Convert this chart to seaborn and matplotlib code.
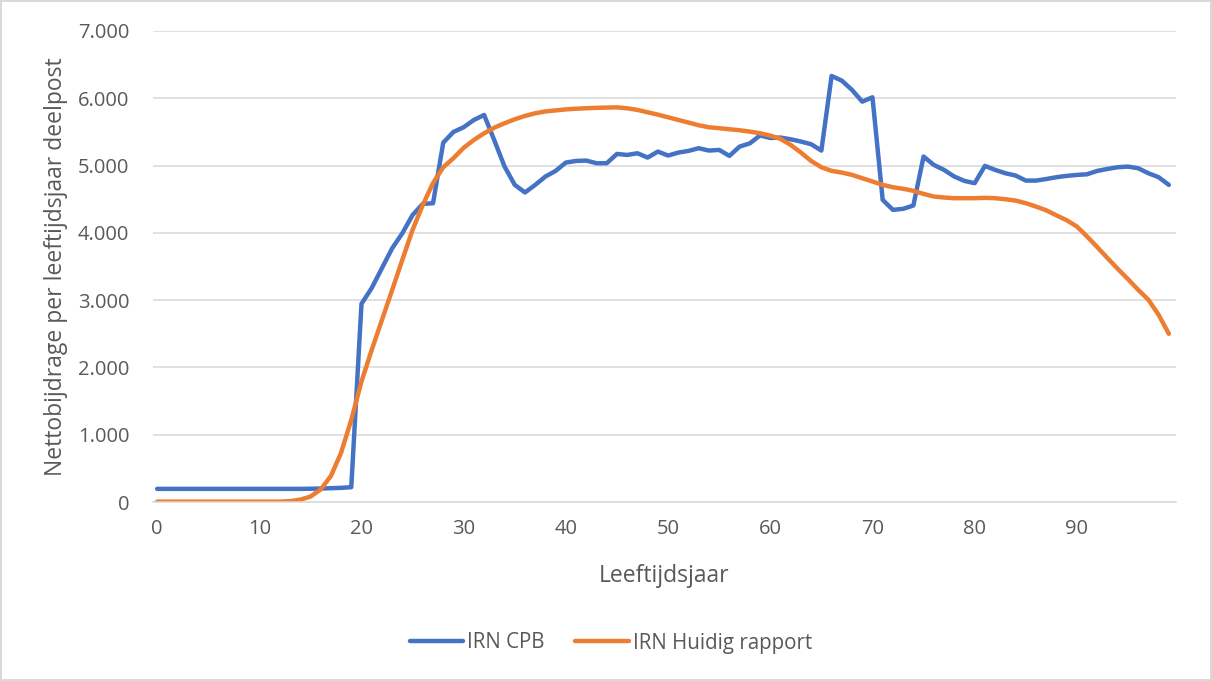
import matplotlib
matplotlib.use("Agg")
import matplotlib.pyplot as plt
import matplotlib.ticker as mticker
import seaborn as sns
import pandas as pd

# ---- data ----
years = list(range(100))
irn_cpb = [195] * 15 + [197, 200, 205, 210, 220,
    2945, 3180, 3475, 3770, 3995, 4265, 4430, 4440, 5340, 5500,
    5570, 5678, 5752, 5375, 4985, 4713, 4600, 4713, 4837, 4921,
    5045, 5069, 5074, 5035, 5035, 5173, 5158, 5183, 5119, 5208,
    5149, 5193, 5218, 5258, 5223, 5233, 5144, 5282, 5330, 5448,
    5410, 5416, 5391, 5357, 5317, 5223, 6332, 6262, 6124, 5950,
    6015, 4490, 4342, 4357, 4406, 5134, 5010, 4936, 4837, 4772,
    4738, 4995, 4936, 4886, 4852, 4777, 4777, 4800, 4827, 4847,
    4861, 4871, 4921, 4950, 4975, 4985, 4960, 4886, 4827, 4713]
irn_huidig = [5] * 13 + [12, 35, 80, 185, 385, 730, 1220,
    1790, 2260, 2705, 3150, 3600, 4045, 4415, 4740, 4975, 5110,
    5265, 5381, 5480, 5564, 5629, 5688, 5738, 5777, 5805, 5820,
    5835, 5845, 5852, 5858, 5862, 5865, 5851, 5827, 5792, 5757,
    5718, 5678, 5639, 5599, 5569, 5555, 5540, 5525, 5505, 5480,
    5445, 5396, 5307, 5193, 5069, 4975, 4921, 4896, 4862, 4812,
    4763, 4713, 4678, 4655, 4625, 4579, 4540, 4525, 4515, 4515,
    4515, 4520, 4515, 4500, 4480, 4441, 4391, 4335, 4260, 4188,
    4094, 3946, 3787, 3624, 3465, 3312, 3153, 3005, 2782, 2500]
series_names = ["IRN CPB", "IRN Huidig rapport"]
x_ticks = list(range(0, 100, 10))
y_ticks = list(range(0, 7001, 1000))

df = pd.DataFrame({
    "Leeftijdsjaar": years * 2,
    "waarde": irn_cpb + irn_huidig,
    "reeks": [series_names[0]] * len(years) + [series_names[1]] * len(years),
})

sns.set_theme(style="white")
plt.rcParams["font.family"] = ["Open Sans", "DejaVu Sans"]

fig = plt.figure(figsize=(12.12, 6.81), dpi=100)
fig.patch.set_facecolor("white")
fig.patch.set_edgecolor("#D9D9D9")
fig.patch.set_linewidth(1.5)
ax = fig.add_axes([153 / 1212, 1 - 502 / 681, (1176 - 153) / 1212, (502 - 31) / 681])

sns.lineplot(data=df, x="Leeftijdsjaar", y="waarde", hue="reeks",
             palette={series_names[0]: "#4472C4", series_names[1]: "#ED7D31"},
             linewidth=3.2, ax=ax, legend=True)
for ln in ax.lines:
    ln.set_solid_capstyle("round")
    ln.set_solid_joinstyle("round")

ax.set_xlim(-0.4, 99.7)
ax.set_ylim(0, 7000)
ax.set_xticks(x_ticks)
ax.set_yticks(y_ticks)
ax.yaxis.set_major_formatter(mticker.FuncFormatter(
    lambda v, p: f"{int(v):,}".replace(",", ".")))
ax.grid(axis="y", color="#D9D9D9", linewidth=1.1)
ax.set_axisbelow(True)
for s in ["top", "right", "left"]:
    ax.spines[s].set_visible(False)
ax.spines["bottom"].set_color("#D9D9D9")
ax.spines["bottom"].set_linewidth(1.1)
ax.tick_params(axis="both", length=0, labelsize=14.5, colors="#595959")
ax.tick_params(axis="y", pad=17)
ax.tick_params(axis="x", pad=12)
ax.set_xlabel("Leeftijdsjaar", fontsize=16.5, color="#595959", labelpad=18)
ax.set_ylabel("Nettobijdrage per leeftijdsjaar deelpost", fontsize=16.5,
              color="#595959", labelpad=7)

handles, labels = ax.get_legend_handles_labels()
ax.legend_.remove()
for h in handles:
    h.set_linewidth(3.2)
    h.set_solid_capstyle("round")
leg = fig.legend(handles, labels, loc="center", bbox_to_anchor=(0.504, 1 - 643 / 681),
                 ncol=2, frameon=False, fontsize=14.8, handlelength=2.6,
                 columnspacing=1.5, handletextpad=0.2)
for t in leg.get_texts():
    t.set_color("#595959")

fig.savefig("out.png", dpi=100, facecolor=fig.get_facecolor(), edgecolor=fig.get_edgecolor())
